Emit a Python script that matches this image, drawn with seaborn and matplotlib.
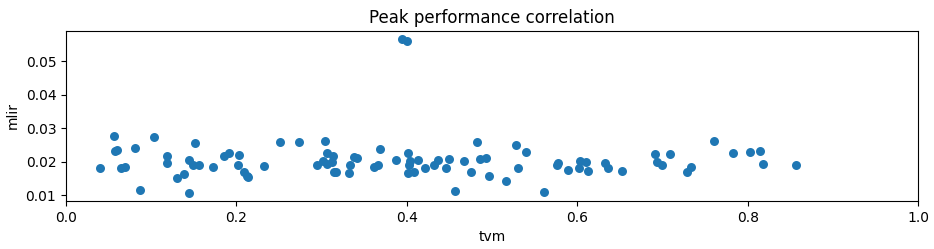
import numpy as np
import pandas as pd
import matplotlib
matplotlib.use("Agg")
import matplotlib.pyplot as plt
import seaborn as sns

# values
tvm = [0.040, 0.056, 0.058, 0.060, 0.064, 0.069, 0.081, 0.087, 0.103, 0.119,
       0.118, 0.130, 0.139, 0.144, 0.144, 0.149, 0.151, 0.156, 0.173, 0.185,
       0.191, 0.203, 0.2015, 0.209, 0.212, 0.214, 0.232, 0.251, 0.273, 0.304,
       0.306, 0.3135, 0.295, 0.302, 0.3065, 0.312, 0.314, 0.317, 0.332, 0.333,
       0.338, 0.342, 0.362, 0.366, 0.368, 0.387, 0.3945, 0.400, 0.4015, 0.402,
       0.404, 0.401, 0.408, 0.413, 0.421, 0.432, 0.436, 0.4465, 0.449, 0.456,
       0.467, 0.475, 0.482, 0.486, 0.493, 0.496, 0.516, 0.5275, 0.530, 0.540,
       0.561, 0.576, 0.577, 0.589, 0.603, 0.602, 0.610, 0.612, 0.632, 0.636,
       0.653, 0.691, 0.693, 0.699, 0.709, 0.729, 0.734, 0.761, 0.7825, 0.803,
       0.814, 0.818, 0.8565]
mlir = [0.0181, 0.0278, 0.0233, 0.0235, 0.0181, 0.0184, 0.0241, 0.0116, 0.0274, 0.0218,
        0.0196, 0.0151, 0.0164, 0.0106, 0.0206, 0.0191, 0.0256, 0.0191, 0.0184, 0.0216,
        0.0226, 0.0221, 0.0190, 0.0171, 0.0159, 0.0154, 0.0187, 0.0260, 0.0260, 0.0263,
        0.0226, 0.0216, 0.0191, 0.0201, 0.0193, 0.0198, 0.0169, 0.0169, 0.0166, 0.0191,
        0.0213, 0.0211, 0.0186, 0.0191, 0.0238, 0.0206, 0.0568, 0.0562, 0.0226, 0.0191,
        0.0201, 0.0168, 0.0171, 0.0206, 0.0181, 0.0191, 0.0206, 0.0183, 0.0208, 0.0113,
        0.0203, 0.0171, 0.0259, 0.0208, 0.0211, 0.0159, 0.0143, 0.0250, 0.0181, 0.0229,
        0.0111, 0.0191, 0.0196, 0.0176, 0.0203, 0.0183, 0.0199, 0.0173, 0.0196, 0.0183,
        0.0173, 0.0224, 0.0198, 0.0191, 0.0224, 0.0171, 0.0184, 0.0263, 0.0226, 0.0229,
        0.0233, 0.0194, 0.0191]

df = pd.DataFrame({"tvm": tvm, "mlir": mlir})

fig, ax = plt.subplots(figsize=(9.34, 2.49), dpi=100)
sns.scatterplot(data=df, x="tvm", y="mlir", ax=ax, color="#1f77b4", s=42, linewidth=0)
ax.set_xlim(0, 1)
ax.set_title("Peak performance correlation")
ax.set_xlabel("tvm")
ax.set_ylabel("mlir")
fig.subplots_adjust(left=0.0707, right=0.983, top=0.8755, bottom=0.1928)
plt.savefig("out.png", dpi=100)
